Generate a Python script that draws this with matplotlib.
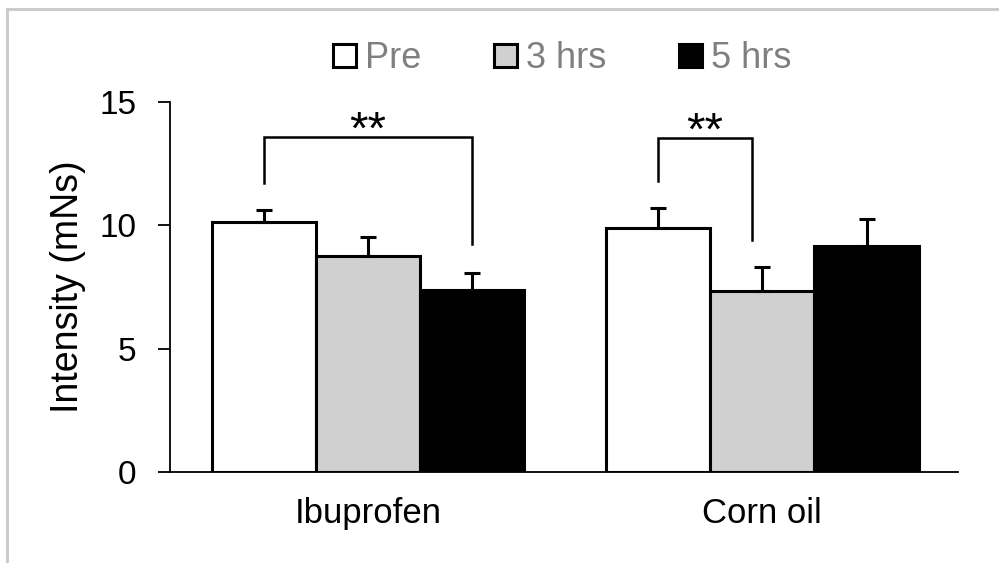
import matplotlib
matplotlib.use("Agg")
import matplotlib.pyplot as plt
from matplotlib.lines import Line2D
import numpy as np

plt.rcParams['font.family'] = ['Liberation Sans', 'DejaVu Sans']

groups = ["Ibuprofen", "Corn oil"]
series = ["Pre", "3 hrs", "5 hrs"]
means = {
    "Pre":   [10.14, 9.89],
    "3 hrs": [8.74, 7.33],
    "5 hrs": [7.37, 9.18],
}
errors = {
    "Pre":   [0.50, 0.81],
    "3 hrs": [0.79, 0.97],
    "5 hrs": [0.70, 1.06],
}
colors = {"Pre": "white", "3 hrs": "#d0d0d0", "5 hrs": "black"}
yticks = [0, 5, 10, 15]

# significance annotations: (group, series_a, series_b, top, left_bottom, right_bottom, label)
sig = [
    (0, "Pre", "5 hrs", 13.57, 11.70, 9.23, "**"),
    (1, "Pre", "3 hrs", 13.53, 11.80, 9.41, "**"),
]

fig = plt.figure(figsize=(9.99, 5.63), dpi=100)
ax = fig.add_axes([170/999, 91/563, (958-170)/999, (472-102)/563])

x = np.arange(len(groups))
w = 0.2645
offsets = {"Pre": -w, "3 hrs": 0.0, "5 hrs": w}
handles = []
for s in series:
    bars = ax.bar(x + offsets[s], means[s], width=w, color=colors[s],
                  edgecolor="black", linewidth=2.2, zorder=2, label=s)
    ax.errorbar(x + offsets[s], means[s], yerr=[np.zeros(len(groups)), errors[s]],
                fmt="none", ecolor="black", elinewidth=2.2, capsize=5.5,
                capthick=2.2, zorder=3)
    handles.append(bars)

bracket_shift = {(1, "3 hrs"): -0.027}
for g, a, b, top, lb, rb, lab in sig:
    xa = g + offsets[a] + bracket_shift.get((g, a), 0)
    xb = g + offsets[b] + bracket_shift.get((g, b), 0)
    ax.plot([xa, xa, xb, xb], [lb, top, top, rb], color="black", lw=1.8,
            solid_joinstyle="miter", zorder=4, clip_on=False)
    ax.text((xa + xb) / 2, top - 0.25, lab, ha="center", va="baseline",
            fontsize=34, color="black")

ax.set_xlim(-0.5025, 1.4965)
ax.set_ylim(0, 15)
ax.set_yticks(yticks)
ax.set_yticklabels([str(t) for t in yticks], fontsize=24)
ax.set_xticks(x)
ax.set_xticklabels(groups, fontsize=25)
ax.tick_params(axis="x", length=0, pad=18)
ax.tick_params(axis="y", length=9, width=1.3, pad=15, direction="out")
for sp in ["top", "right"]:
    ax.spines[sp].set_visible(False)
ax.spines["left"].set_linewidth(1.3)
ax.spines["bottom"].set_linewidth(1.3)
ax.set_ylabel("Intensity (mNs)", fontsize=27, labelpad=10)

leg = fig.legend(handles=handles, labels=series, loc="center",
                 bbox_to_anchor=(562/999, 1 - 59/563), ncol=3, frameon=False,
                 fontsize=26, handlelength=0.65, handleheight=0.6,
                 handletextpad=0.25, columnspacing=2.0, borderpad=0)
for t in leg.get_texts():
    t.set_color("#7f7f7f")

# light gray frame
fig.add_artist(Line2D([7/999, 7/999], [0, 1 - 9/563], transform=fig.transFigure,
                      color="#c8c8c8", lw=2))
fig.add_artist(Line2D([7/999, 1], [1 - 9/563, 1 - 9/563], transform=fig.transFigure,
                      color="#c8c8c8", lw=2))

fig.savefig("out.png", dpi=100)
